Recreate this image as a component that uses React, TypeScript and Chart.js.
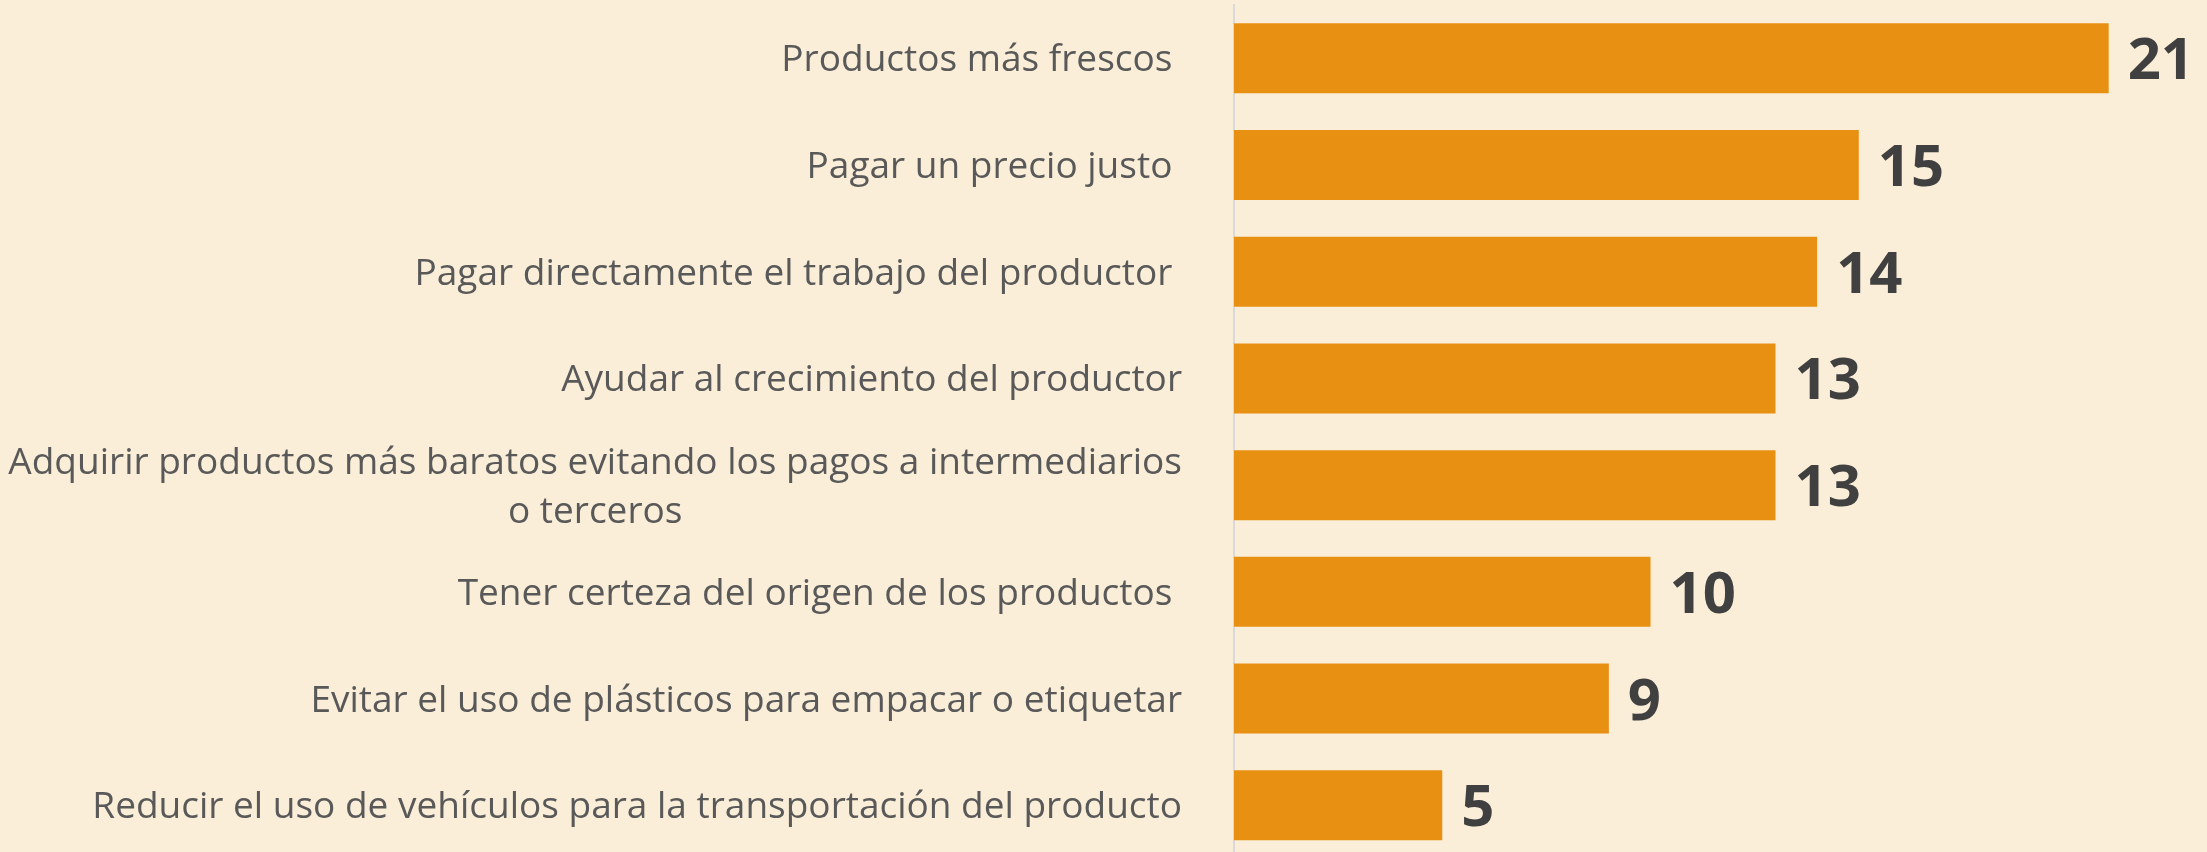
import React, { useEffect, useRef } from 'react';
import { Chart, registerables } from 'chart.js';

Chart.register(...registerables);

const categories: (string | string[])[] = [
  'Productos más frescos ',
  'Pagar un precio justo ',
  'Pagar directamente el trabajo del productor ',
  'Ayudar al crecimiento del productor',
  ['Adquirir productos más baratos evitando los pagos a intermediarios', 'o terceros'],
  'Tener certeza del origen de los productos ',
  'Evitar el uso de plásticos para empacar o etiquetar',
  'Reducir el uso de vehículos para la transportación del producto',
];
const values: number[] = [21, 15, 14, 13, 13, 10, 9, 5];

const BG = '#FAEED8';
const BAR = '#E89012';
const LABEL_COLOR = '#595959';
const VALUE_COLOR = '#404040';
const LABEL_FONT = '37px "Open Sans", "Noto Sans", sans-serif';
const VALUE_FONT = 'bold 58px "Open Sans", "Noto Sans", sans-serif';

const W = 2207;
const H = 862;

export default function App() {
  const ref = useRef<HTMLCanvasElement>(null);

  useEffect(() => {
    document.body.style.margin = '0';
    document.body.style.background = BG;
    const canvas = ref.current;
    if (!canvas) return;

    const textPlugin = {
      id: 'textPlugin',
      afterDraw(chart: any) {
        const ctx = chart.ctx as CanvasRenderingContext2D;
        const yScale = chart.scales.y;
        ctx.save();
        ctx.font = LABEL_FONT;
        ctx.fillStyle = LABEL_COLOR;
        const right = chart.chartArea.left - 52;
        categories.forEach((lab, i) => {
          const lines = Array.isArray(lab) ? lab : [lab];
          const cy = yScale.getPixelForValue(i);
          const widest = Math.max(...lines.map((l) => ctx.measureText(l).width));
          lines.forEach((l, k) => {
            const by = cy + (k - (lines.length - 1) / 2) * 49 + 13;
            if (lines.length === 1) {
              ctx.textAlign = 'right';
              ctx.fillText(l, right, by);
            } else {
              ctx.textAlign = 'center';
              ctx.fillText(l, right - widest / 2, by);
            }
          });
        });
        const meta = chart.getDatasetMeta(0);
        ctx.font = VALUE_FONT;
        ctx.fillStyle = VALUE_COLOR;
        ctx.textAlign = 'left';
        meta.data.forEach((bar: any, i: number) => {
          ctx.fillText(String(values[i]), bar.x + 19, bar.y + 21);
        });
        ctx.restore();
      },
    };

    const chart = new Chart(canvas, {
      type: 'bar',
      data: {
        labels: categories as any,
        datasets: [
          {
            data: values,
            backgroundColor: BAR,
            borderWidth: 0,
            barPercentage: 0.656,
            categoryPercentage: 1,
          },
        ],
      },
      options: {
        indexAxis: 'y',
        responsive: false,
        animation: false,
        devicePixelRatio: 1,
        layout: { padding: { top: 5, right: 15, bottom: H - 858.6, left: 0 } },
        plugins: {
          legend: { display: false },
          tooltip: { enabled: false },
        },
        scales: {
          x: { min: 0, max: 23, display: false },
          y: {
            grid: { display: false },
            border: { display: true, color: '#D9D9D9', width: 2 },
            ticks: { display: false },
            afterFit: (scale: any) => {
              scale.width = 1234;
            },
          },
        },
      },
      plugins: [textPlugin],
    });

    return () => chart.destroy();
  }, []);

  return (
    <div
      style={{
        position: 'fixed',
        left: 0,
        top: 0,
        width: W,
        height: 852,
        overflow: 'hidden',
        background: BG,
      }}
    >
      <canvas ref={ref} width={W} height={H} style={{ display: 'block', width: W, height: H }} />
    </div>
  );
}
